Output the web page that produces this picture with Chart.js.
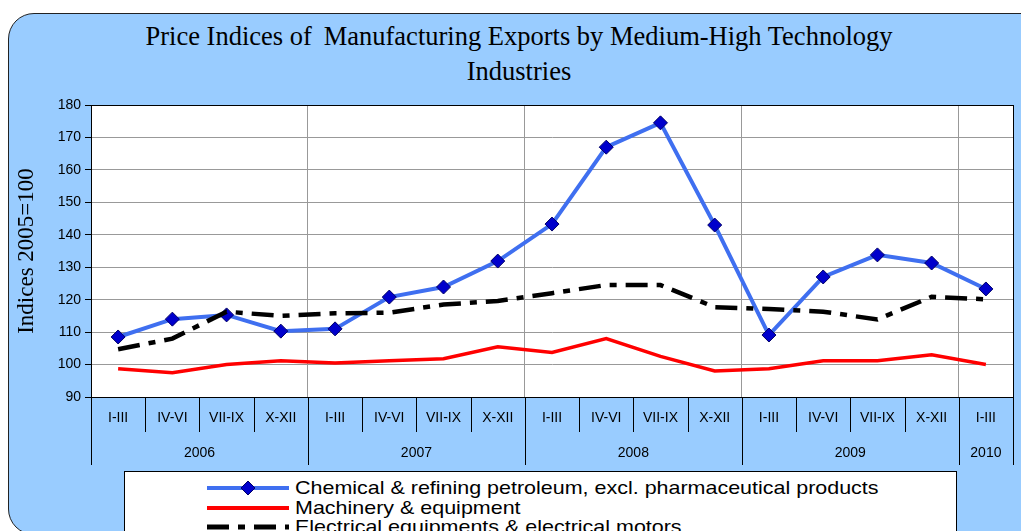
<!DOCTYPE html>
<html>
<head>
<meta charset="utf-8">
<script src="https://cdn.jsdelivr.net/npm/chart.js@4.4.1/dist/chart.umd.min.js"></script>
<style>
  body { margin: 0; width: 1021px; height: 531px; overflow: hidden; position: relative; background: #fff; }
  #panel { position: absolute; left: 8px; top: 13px; width: 1040px; height: 520px; background: #99ccff;
           border: 1.5px solid #222; border-radius: 26px; }
  #title { position: absolute; left: 0; top: 19px; width: 1038px; text-align: center;
           font-family: 'Liberation Serif', 'Times New Roman', serif; font-size: 26.5px; line-height: 35px; color: #000; }
  #chart { position: absolute; left: 0; top: 0; }
  #legend { position: absolute; left: 124px; top: 471px; width: 831px; height: 90px; background: #fff;
            border: 1px solid #000; font-family: 'Liberation Sans', Arial, sans-serif; font-size: 19px; color: #000; }
  .item { position: absolute; left: 80px; height: 20px; display: flex; align-items: center; }
  .item svg { width: 86px; height: 20px; margin-right: 4px; }
  .item span { line-height: 20px; white-space: nowrap; display: inline-block; transform: scaleX(1.13); transform-origin: left center; }
</style>
</head>
<body>
<div id="panel"></div>
<div id="title">Price Indices of&thinsp; Manufacturing Exports by Medium-High Technology<br>Industries</div>
<canvas id="chart" width="1021" height="531"></canvas>
<div id="legend">
  <div class="item" style="top:6px">
    <svg viewBox="0 0 86 20"><line x1="2" y1="10" x2="84" y2="10" stroke="#3f6ff0" stroke-width="4"/>
      <polygon points="43,3 50,10 43,17 36,10" fill="#0000cc" stroke="#000066" stroke-width="1"/></svg>
    <span>Chemical &amp; refining petroleum, excl. pharmaceutical products</span>
  </div>
  <div class="item" style="top:26px">
    <svg viewBox="0 0 86 20"><line x1="2" y1="10" x2="84" y2="10" stroke="#ff0000" stroke-width="4"/></svg>
    <span>Machinery &amp; equipment</span>
  </div>
  <div class="item" style="top:45px">
    <svg viewBox="0 0 86 20"><line x1="2" y1="10" x2="84" y2="10" stroke="#000" stroke-width="5" stroke-dasharray="22 9 7 9"/></svg>
    <span>Electrical equipments &amp; electrical motors</span>
  </div>
</div>
<script>
// quarters along the axis, grouped by year
const quarters = ['I-III', 'IV-VI', 'VII-IX', 'X-XII', 'I-III', 'IV-VI', 'VII-IX', 'X-XII',
                  'I-III', 'IV-VI', 'VII-IX', 'X-XII', 'I-III', 'IV-VI', 'VII-IX', 'X-XII', 'I-III'];
const years = ['2006', '2007', '2008', '2009', '2010'];
const quartersPerYear = [4, 4, 4, 4, 1];

// index values (2005 = 100)
const chemical = [108.5, 114, 115.3, 110.3, 111, 120.8, 123.9, 131.9, 143.3, 167, 174.5, 143, 109.1, 127, 133.8, 131.3, 123.3];
const machinery = [98.7, 97.5, 100, 101.2, 100.5, 101.2, 101.8, 105.5, 103.7, 108, 102.5, 98, 98.7, 101.2, 101.2, 103, 100];
const electrical = [104.7, 108, 116.3, 115, 115.8, 116, 118.5, 119.6, 122, 124.5, 124.5, 117.7, 117.1, 116.3, 113.9, 120.9, 120.1];

const yMin = 90, yMax = 180, yStep = 10;

// year boundary indices (start of each group)
const yearStarts = [];
quartersPerYear.reduce((acc, n) => { yearStarts.push(acc); return acc + n; }, 0);

// white plot background
const plotBg = {
    id: 'plotBg',
    beforeDraw(chart) {
        const { ctx, chartArea: a } = chart;
        ctx.save();
        ctx.fillStyle = '#fff';
        ctx.fillRect(a.left, a.top, a.right - a.left, a.bottom - a.top);
        ctx.restore();
    }
};

const axisBoxes = {
    id: 'axisBoxes',
    afterDraw(chart) {
        const { ctx, chartArea: a, scales: { x } } = chart;
        const n = quarters.length;
        const edge = i => {
            if (i === 0) return a.left;
            if (i === n) return a.right;
            return (x.getPixelForValue(i - 1) + x.getPixelForValue(i)) / 2;
        };
        ctx.save();
        ctx.strokeStyle = '#000';
        ctx.lineWidth = 1;
        for (let i = 0; i <= n; i++) {
            const isYear = yearStarts.includes(i) || i === n;
            const px = Math.round(edge(i)) + 0.5;
            ctx.beginPath();
            ctx.moveTo(px, a.bottom);
            ctx.lineTo(px, a.bottom + (isYear ? 68 : 35));
            ctx.stroke();
        }
        // plot frame
        ctx.strokeRect(Math.round(a.left) + 0.5, Math.round(a.top) + 0.5, Math.round(a.right - a.left), Math.round(a.bottom - a.top));
        // year labels
        ctx.fillStyle = '#000';
        ctx.font = '14px "Liberation Sans", Arial, sans-serif';
        ctx.textAlign = 'center';
        ctx.textBaseline = 'middle';
        years.forEach((yr, k) => {
            const s = yearStarts[k], e = s + quartersPerYear[k];
            ctx.fillText(yr, (edge(s) + edge(e)) / 2, a.bottom + 56);
        });
        ctx.restore();
    }
};

new Chart(document.getElementById('chart'), {
    type: 'line',
    data: {
        labels: quarters,
        datasets: [
            {
                label: 'Chemical & refining petroleum, excl. pharmaceutical products',
                data: chemical,
                borderColor: '#3f6ff0',
                borderWidth: 4,
                pointStyle: 'rectRot',
                pointRadius: 7,
                pointBackgroundColor: '#0000cc',
                pointBorderColor: '#000066',
                pointBorderWidth: 1,
                tension: 0,
                order: 1
            },
            {
                label: 'Machinery & equipment',
                data: machinery,
                borderColor: '#ff0000',
                borderWidth: 3.5,
                pointRadius: 0,
                tension: 0,
                order: 2
            },
            {
                label: 'Electrical equipments & electrical motors',
                data: electrical,
                borderColor: '#000',
                borderWidth: 4.5,
                borderDash: [22, 9, 7, 9],
                borderCapStyle: 'butt',
                pointRadius: 0,
                tension: 0,
                order: 0
            }
        ]
    },
    options: {
        responsive: false,
        animation: false,
        layout: { padding: { top: 105, right: 2, bottom: 0, left: 0 } },
        plugins: { legend: { display: false }, tooltip: { enabled: false }, title: { display: false } },
        scales: {
            x: {
                type: 'category',
                offset: true,
                afterFit: s => { s.height = 134; },
                border: { display: true, color: '#000', width: 1 },
                grid: {
                    offset: true,
                    drawTicks: false,
                    color: c => (yearStarts.includes(c.index) && c.index > 0) ? '#999' : 'rgba(0,0,0,0)'
                },
                ticks: {
                    padding: 13,
                    maxRotation: 0,
                    autoSkip: false,
                    color: '#000',
                    font: { family: '"Liberation Sans", Arial, sans-serif', size: 14 }
                }
            },
            y: {
                min: yMin,
                max: yMax,
                afterFit: s => { s.width = 91; },
                border: { display: true, color: '#000', width: 1 },
                grid: { color: '#999', tickColor: '#000', tickLength: 6 },
                ticks: {
                    stepSize: yStep,
                    padding: 4,
                    color: '#000',
                    font: { family: '"Liberation Sans", Arial, sans-serif', size: 14 }
                },
                title: {
                    display: true,
                    text: 'Indices 2005=100',
                    color: '#000',
                    padding: { top: 13, bottom: 0 },
                    font: { family: '"Liberation Serif", "Times New Roman", serif', size: 23 }
                }
            }
        }
    },
    plugins: [plotBg, axisBoxes]
});
</script>
</body>
</html>
